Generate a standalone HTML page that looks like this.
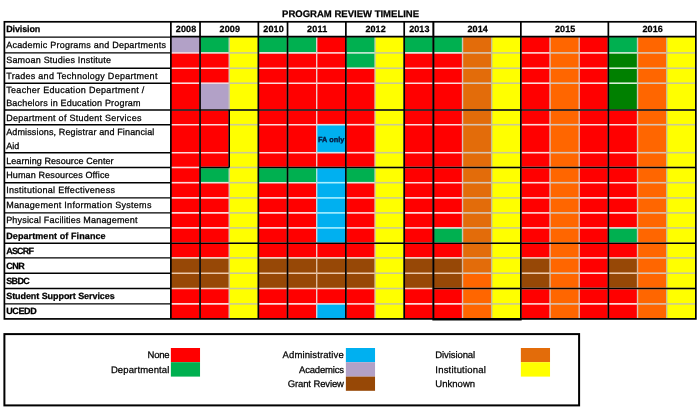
<!DOCTYPE html>
<html lang="en"><head><meta charset="utf-8"><title>Program Review Timeline</title>
<style>
html,body{margin:0;padding:0;background:#fff;}
body{width:700px;height:410px;position:relative;overflow:hidden;font-family:"Liberation Sans",sans-serif;font-size:9.0px;color:#000;text-rendering:geometricPrecision;}
svg{position:absolute;left:0;top:0;}
.t{position:absolute;white-space:nowrap;line-height:12px;height:12px;-webkit-text-stroke:0.25px #000;}
.t span{display:inline-block;}
</style></head><body>
<svg width="700" height="410" viewBox="0 0 700 410">
<rect x="170.87" y="37.1" width="29.17" height="15.8" fill="#B2A1C7"/>
<rect x="170.87" y="52.9" width="29.17" height="205" fill="#FF0000"/>
<rect x="170.87" y="257.9" width="29.17" height="30.6" fill="#974806"/>
<rect x="170.87" y="288.5" width="29.17" height="30.4" fill="#FF0000"/>
<rect x="200.04" y="37.1" width="29.17" height="15.8" fill="#00B050"/>
<rect x="200.04" y="52.9" width="29.17" height="30.3" fill="#FF0000"/>
<rect x="200.04" y="83.2" width="29.17" height="26.8" fill="#B2A1C7"/>
<rect x="200.04" y="110" width="29.17" height="57.5" fill="#FF0000"/>
<rect x="200.04" y="167.5" width="29.17" height="15.2" fill="#00B050"/>
<rect x="200.04" y="182.7" width="29.17" height="75.2" fill="#FF0000"/>
<rect x="200.04" y="257.9" width="29.17" height="30.6" fill="#974806"/>
<rect x="200.04" y="288.5" width="29.17" height="30.4" fill="#FF0000"/>
<rect x="229.2" y="37.1" width="29.17" height="281.8" fill="#FFFF00"/>
<rect x="258.37" y="37.1" width="29.17" height="15.8" fill="#00B050"/>
<rect x="258.37" y="52.9" width="29.17" height="114.6" fill="#FF0000"/>
<rect x="258.37" y="167.5" width="29.17" height="15.2" fill="#00B050"/>
<rect x="258.37" y="182.7" width="29.17" height="75.2" fill="#FF0000"/>
<rect x="258.37" y="257.9" width="29.17" height="30.6" fill="#974806"/>
<rect x="258.37" y="288.5" width="29.17" height="30.4" fill="#FF0000"/>
<rect x="287.53" y="37.1" width="29.17" height="15.8" fill="#00B050"/>
<rect x="287.53" y="52.9" width="29.17" height="114.6" fill="#FF0000"/>
<rect x="287.53" y="167.5" width="29.17" height="15.2" fill="#00B050"/>
<rect x="287.53" y="182.7" width="29.17" height="75.2" fill="#FF0000"/>
<rect x="287.53" y="257.9" width="29.17" height="30.6" fill="#974806"/>
<rect x="287.53" y="288.5" width="29.17" height="30.4" fill="#FF0000"/>
<rect x="316.7" y="37.1" width="29.17" height="87.6" fill="#FF0000"/>
<rect x="316.7" y="124.7" width="29.17" height="28" fill="#00B0F0"/>
<rect x="316.7" y="152.7" width="29.17" height="14.8" fill="#FF0000"/>
<rect x="316.7" y="167.5" width="29.17" height="75.7" fill="#00B0F0"/>
<rect x="316.7" y="243.2" width="29.17" height="14.7" fill="#FF0000"/>
<rect x="316.7" y="257.9" width="29.17" height="30.6" fill="#974806"/>
<rect x="316.7" y="288.5" width="29.17" height="15.4" fill="#FF0000"/>
<rect x="316.7" y="303.9" width="29.17" height="15" fill="#00B0F0"/>
<rect x="345.87" y="37.1" width="29.17" height="31.1" fill="#00B050"/>
<rect x="345.87" y="68.2" width="29.17" height="99.3" fill="#FF0000"/>
<rect x="345.87" y="167.5" width="29.17" height="15.2" fill="#00B050"/>
<rect x="345.87" y="182.7" width="29.17" height="75.2" fill="#FF0000"/>
<rect x="345.87" y="257.9" width="29.17" height="30.6" fill="#974806"/>
<rect x="345.87" y="288.5" width="29.17" height="30.4" fill="#FF0000"/>
<rect x="375.03" y="37.1" width="29.17" height="281.8" fill="#FFFF00"/>
<rect x="404.2" y="37.1" width="29.17" height="15.8" fill="#00B050"/>
<rect x="404.2" y="52.9" width="29.17" height="205" fill="#FF0000"/>
<rect x="404.2" y="257.9" width="29.17" height="30.6" fill="#974806"/>
<rect x="404.2" y="288.5" width="29.17" height="30.4" fill="#FF0000"/>
<rect x="433.36" y="37.1" width="29.17" height="15.8" fill="#00B050"/>
<rect x="433.36" y="52.9" width="29.17" height="175" fill="#FF0000"/>
<rect x="433.36" y="227.9" width="29.17" height="15.3" fill="#00B050"/>
<rect x="433.36" y="243.2" width="29.17" height="14.7" fill="#FF0000"/>
<rect x="433.36" y="257.9" width="29.17" height="30.6" fill="#974806"/>
<rect x="433.36" y="288.5" width="29.17" height="30.4" fill="#FF0000"/>
<rect x="462.53" y="37.1" width="29.17" height="236.1" fill="#E36C0A"/>
<rect x="462.53" y="273.2" width="29.17" height="45.7" fill="#FF6600"/>
<rect x="491.7" y="37.1" width="29.17" height="281.8" fill="#FFFF00"/>
<rect x="520.86" y="37.1" width="29.17" height="220.8" fill="#FF0000"/>
<rect x="520.86" y="257.9" width="29.17" height="30.6" fill="#974806"/>
<rect x="520.86" y="288.5" width="29.17" height="30.4" fill="#FF0000"/>
<rect x="550.03" y="37.1" width="29.17" height="281.8" fill="#FF6600"/>
<rect x="579.19" y="37.1" width="29.17" height="281.8" fill="#FF0000"/>
<rect x="608.36" y="37.1" width="29.17" height="15.8" fill="#00B050"/>
<rect x="608.36" y="52.9" width="29.17" height="57.1" fill="#008000"/>
<rect x="608.36" y="110" width="29.17" height="117.9" fill="#FF0000"/>
<rect x="608.36" y="227.9" width="29.17" height="15.3" fill="#00B050"/>
<rect x="608.36" y="243.2" width="29.17" height="14.7" fill="#FF0000"/>
<rect x="608.36" y="257.9" width="29.17" height="30.6" fill="#974806"/>
<rect x="608.36" y="288.5" width="29.17" height="30.4" fill="#FF0000"/>
<rect x="637.53" y="37.1" width="29.17" height="281.8" fill="#FF6600"/>
<rect x="666.69" y="37.1" width="29.17" height="281.8" fill="#FFFF00"/>
<line x1="170.87" x2="200.04" y1="52.9" y2="52.9" stroke="#EFD9E1" stroke-width="1.6"/>
<line x1="200.04" x2="229.2" y1="52.9" y2="52.9" stroke="#E7E1DA" stroke-width="1.6"/>
<line x1="229.2" x2="258.37" y1="52.9" y2="52.9" stroke="#CACA96" stroke-width="1.6"/>
<line x1="258.37" x2="316.7" y1="52.9" y2="52.9" stroke="#E7E1DA" stroke-width="1.6"/>
<line x1="316.7" x2="345.87" y1="52.9" y2="52.9" stroke="#FCD8D8" stroke-width="1.6"/>
<line x1="345.87" x2="375.03" y1="52.9" y2="52.9" stroke="#D2EBDC" stroke-width="1.6"/>
<line x1="375.03" x2="404.2" y1="52.9" y2="52.9" stroke="#CACA96" stroke-width="1.6"/>
<line x1="404.2" x2="462.53" y1="52.9" y2="52.9" stroke="#E7E1DA" stroke-width="1.6"/>
<line x1="462.53" x2="491.7" y1="52.9" y2="52.9" stroke="#D6C4B2" stroke-width="1.6"/>
<line x1="491.7" x2="520.86" y1="52.9" y2="52.9" stroke="#CACA96" stroke-width="1.6"/>
<line x1="520.86" x2="550.03" y1="52.9" y2="52.9" stroke="#FCD8D8" stroke-width="1.6"/>
<line x1="550.03" x2="579.19" y1="52.9" y2="52.9" stroke="#D8C4B2" stroke-width="1.6"/>
<line x1="579.19" x2="608.36" y1="52.9" y2="52.9" stroke="#FCD8D8" stroke-width="1.6"/>
<line x1="608.36" x2="637.53" y1="52.9" y2="52.9" stroke="#D4EDD9" stroke-width="1.6"/>
<line x1="637.53" x2="666.69" y1="52.9" y2="52.9" stroke="#D8C4B2" stroke-width="1.6"/>
<line x1="666.69" x2="695.86" y1="52.9" y2="52.9" stroke="#CACA96" stroke-width="1.6"/>
<line x1="170.87" x2="229.2" y1="68.2" y2="68.2" stroke="#FCD8D8" stroke-width="1.6"/>
<line x1="229.2" x2="258.37" y1="68.2" y2="68.2" stroke="#CACA96" stroke-width="1.6"/>
<line x1="258.37" x2="345.87" y1="68.2" y2="68.2" stroke="#FCD8D8" stroke-width="1.6"/>
<line x1="345.87" x2="375.03" y1="68.2" y2="68.2" stroke="#E7E1DA" stroke-width="1.6"/>
<line x1="375.03" x2="404.2" y1="68.2" y2="68.2" stroke="#CACA96" stroke-width="1.6"/>
<line x1="404.2" x2="462.53" y1="68.2" y2="68.2" stroke="#FCD8D8" stroke-width="1.6"/>
<line x1="462.53" x2="491.7" y1="68.2" y2="68.2" stroke="#D6C4B2" stroke-width="1.6"/>
<line x1="491.7" x2="520.86" y1="68.2" y2="68.2" stroke="#CACA96" stroke-width="1.6"/>
<line x1="520.86" x2="550.03" y1="68.2" y2="68.2" stroke="#FCD8D8" stroke-width="1.6"/>
<line x1="550.03" x2="579.19" y1="68.2" y2="68.2" stroke="#D8C4B2" stroke-width="1.6"/>
<line x1="579.19" x2="608.36" y1="68.2" y2="68.2" stroke="#FCD8D8" stroke-width="1.6"/>
<line x1="608.36" x2="637.53" y1="68.2" y2="68.2" stroke="#D7F0D7" stroke-width="1.6"/>
<line x1="637.53" x2="666.69" y1="68.2" y2="68.2" stroke="#D8C4B2" stroke-width="1.6"/>
<line x1="666.69" x2="695.86" y1="68.2" y2="68.2" stroke="#CACA96" stroke-width="1.6"/>
<line x1="170.87" x2="200.04" y1="83.2" y2="83.2" stroke="#FCD8D8" stroke-width="1.6"/>
<line x1="200.04" x2="229.2" y1="83.2" y2="83.2" stroke="#EFD9E1" stroke-width="1.6"/>
<line x1="229.2" x2="258.37" y1="83.2" y2="83.2" stroke="#CACA96" stroke-width="1.6"/>
<line x1="258.37" x2="375.03" y1="83.2" y2="83.2" stroke="#FCD8D8" stroke-width="1.6"/>
<line x1="375.03" x2="404.2" y1="83.2" y2="83.2" stroke="#CACA96" stroke-width="1.6"/>
<line x1="404.2" x2="462.53" y1="83.2" y2="83.2" stroke="#FCD8D8" stroke-width="1.6"/>
<line x1="462.53" x2="491.7" y1="83.2" y2="83.2" stroke="#D6C4B2" stroke-width="1.6"/>
<line x1="491.7" x2="520.86" y1="83.2" y2="83.2" stroke="#CACA96" stroke-width="1.6"/>
<line x1="520.86" x2="550.03" y1="83.2" y2="83.2" stroke="#FCD8D8" stroke-width="1.6"/>
<line x1="550.03" x2="579.19" y1="83.2" y2="83.2" stroke="#D8C4B2" stroke-width="1.6"/>
<line x1="579.19" x2="608.36" y1="83.2" y2="83.2" stroke="#FCD8D8" stroke-width="1.6"/>
<line x1="608.36" x2="637.53" y1="83.2" y2="83.2" stroke="#D7F0D7" stroke-width="1.6"/>
<line x1="637.53" x2="666.69" y1="83.2" y2="83.2" stroke="#D8C4B2" stroke-width="1.6"/>
<line x1="666.69" x2="695.86" y1="83.2" y2="83.2" stroke="#CACA96" stroke-width="1.6"/>
<line x1="170.87" x2="200.04" y1="110" y2="110" stroke="#FCD8D8" stroke-width="1.6"/>
<line x1="200.04" x2="229.2" y1="110" y2="110" stroke="#EFD9E1" stroke-width="1.6"/>
<line x1="229.2" x2="258.37" y1="110" y2="110" stroke="#CACA96" stroke-width="1.6"/>
<line x1="258.37" x2="375.03" y1="110" y2="110" stroke="#FCD8D8" stroke-width="1.6"/>
<line x1="375.03" x2="404.2" y1="110" y2="110" stroke="#CACA96" stroke-width="1.6"/>
<line x1="404.2" x2="462.53" y1="110" y2="110" stroke="#FCD8D8" stroke-width="1.6"/>
<line x1="462.53" x2="491.7" y1="110" y2="110" stroke="#D6C4B2" stroke-width="1.6"/>
<line x1="491.7" x2="520.86" y1="110" y2="110" stroke="#CACA96" stroke-width="1.6"/>
<line x1="520.86" x2="550.03" y1="110" y2="110" stroke="#FCD8D8" stroke-width="1.6"/>
<line x1="550.03" x2="579.19" y1="110" y2="110" stroke="#D8C4B2" stroke-width="1.6"/>
<line x1="579.19" x2="608.36" y1="110" y2="110" stroke="#FCD8D8" stroke-width="1.6"/>
<line x1="608.36" x2="637.53" y1="110" y2="110" stroke="#E9E4D7" stroke-width="1.6"/>
<line x1="637.53" x2="666.69" y1="110" y2="110" stroke="#D8C4B2" stroke-width="1.6"/>
<line x1="666.69" x2="695.86" y1="110" y2="110" stroke="#CACA96" stroke-width="1.6"/>
<line x1="170.87" x2="229.2" y1="124.7" y2="124.7" stroke="#FCD8D8" stroke-width="1.6"/>
<line x1="229.2" x2="258.37" y1="124.7" y2="124.7" stroke="#CACA96" stroke-width="1.6"/>
<line x1="258.37" x2="316.7" y1="124.7" y2="124.7" stroke="#FCD8D8" stroke-width="1.6"/>
<line x1="316.7" x2="345.87" y1="124.7" y2="124.7" stroke="#D3E4EB" stroke-width="1.6"/>
<line x1="345.87" x2="375.03" y1="124.7" y2="124.7" stroke="#FCD8D8" stroke-width="1.6"/>
<line x1="375.03" x2="404.2" y1="124.7" y2="124.7" stroke="#CACA96" stroke-width="1.6"/>
<line x1="404.2" x2="462.53" y1="124.7" y2="124.7" stroke="#FCD8D8" stroke-width="1.6"/>
<line x1="462.53" x2="491.7" y1="124.7" y2="124.7" stroke="#D6C4B2" stroke-width="1.6"/>
<line x1="491.7" x2="520.86" y1="124.7" y2="124.7" stroke="#CACA96" stroke-width="1.6"/>
<line x1="520.86" x2="550.03" y1="124.7" y2="124.7" stroke="#FCD8D8" stroke-width="1.6"/>
<line x1="550.03" x2="579.19" y1="124.7" y2="124.7" stroke="#D8C4B2" stroke-width="1.6"/>
<line x1="579.19" x2="637.53" y1="124.7" y2="124.7" stroke="#FCD8D8" stroke-width="1.6"/>
<line x1="637.53" x2="666.69" y1="124.7" y2="124.7" stroke="#D8C4B2" stroke-width="1.6"/>
<line x1="666.69" x2="695.86" y1="124.7" y2="124.7" stroke="#CACA96" stroke-width="1.6"/>
<line x1="170.87" x2="229.2" y1="152.7" y2="152.7" stroke="#FCD8D8" stroke-width="1.6"/>
<line x1="229.2" x2="258.37" y1="152.7" y2="152.7" stroke="#CACA96" stroke-width="1.6"/>
<line x1="258.37" x2="316.7" y1="152.7" y2="152.7" stroke="#FCD8D8" stroke-width="1.6"/>
<line x1="316.7" x2="345.87" y1="152.7" y2="152.7" stroke="#D3E4EB" stroke-width="1.6"/>
<line x1="345.87" x2="375.03" y1="152.7" y2="152.7" stroke="#FCD8D8" stroke-width="1.6"/>
<line x1="375.03" x2="404.2" y1="152.7" y2="152.7" stroke="#CACA96" stroke-width="1.6"/>
<line x1="404.2" x2="462.53" y1="152.7" y2="152.7" stroke="#FCD8D8" stroke-width="1.6"/>
<line x1="462.53" x2="491.7" y1="152.7" y2="152.7" stroke="#D6C4B2" stroke-width="1.6"/>
<line x1="491.7" x2="520.86" y1="152.7" y2="152.7" stroke="#CACA96" stroke-width="1.6"/>
<line x1="520.86" x2="550.03" y1="152.7" y2="152.7" stroke="#FCD8D8" stroke-width="1.6"/>
<line x1="550.03" x2="579.19" y1="152.7" y2="152.7" stroke="#D8C4B2" stroke-width="1.6"/>
<line x1="579.19" x2="637.53" y1="152.7" y2="152.7" stroke="#FCD8D8" stroke-width="1.6"/>
<line x1="637.53" x2="666.69" y1="152.7" y2="152.7" stroke="#D8C4B2" stroke-width="1.6"/>
<line x1="666.69" x2="695.86" y1="152.7" y2="152.7" stroke="#CACA96" stroke-width="1.6"/>
<line x1="170.87" x2="200.04" y1="167.5" y2="167.5" stroke="#FCD8D8" stroke-width="1.6"/>
<line x1="200.04" x2="229.2" y1="167.5" y2="167.5" stroke="#E7E1DA" stroke-width="1.6"/>
<line x1="229.2" x2="258.37" y1="167.5" y2="167.5" stroke="#CACA96" stroke-width="1.6"/>
<line x1="258.37" x2="316.7" y1="167.5" y2="167.5" stroke="#E7E1DA" stroke-width="1.6"/>
<line x1="316.7" x2="345.87" y1="167.5" y2="167.5" stroke="#D3E4EB" stroke-width="1.6"/>
<line x1="345.87" x2="375.03" y1="167.5" y2="167.5" stroke="#E7E1DA" stroke-width="1.6"/>
<line x1="375.03" x2="404.2" y1="167.5" y2="167.5" stroke="#CACA96" stroke-width="1.6"/>
<line x1="404.2" x2="462.53" y1="167.5" y2="167.5" stroke="#FCD8D8" stroke-width="1.6"/>
<line x1="462.53" x2="491.7" y1="167.5" y2="167.5" stroke="#D6C4B2" stroke-width="1.6"/>
<line x1="491.7" x2="520.86" y1="167.5" y2="167.5" stroke="#CACA96" stroke-width="1.6"/>
<line x1="520.86" x2="550.03" y1="167.5" y2="167.5" stroke="#FCD8D8" stroke-width="1.6"/>
<line x1="550.03" x2="579.19" y1="167.5" y2="167.5" stroke="#D8C4B2" stroke-width="1.6"/>
<line x1="579.19" x2="637.53" y1="167.5" y2="167.5" stroke="#FCD8D8" stroke-width="1.6"/>
<line x1="637.53" x2="666.69" y1="167.5" y2="167.5" stroke="#D8C4B2" stroke-width="1.6"/>
<line x1="666.69" x2="695.86" y1="167.5" y2="167.5" stroke="#CACA96" stroke-width="1.6"/>
<line x1="170.87" x2="200.04" y1="182.7" y2="182.7" stroke="#FCD8D8" stroke-width="1.6"/>
<line x1="200.04" x2="229.2" y1="182.7" y2="182.7" stroke="#E7E1DA" stroke-width="1.6"/>
<line x1="229.2" x2="258.37" y1="182.7" y2="182.7" stroke="#CACA96" stroke-width="1.6"/>
<line x1="258.37" x2="316.7" y1="182.7" y2="182.7" stroke="#E7E1DA" stroke-width="1.6"/>
<line x1="316.7" x2="345.87" y1="182.7" y2="182.7" stroke="#AAF0FF" stroke-width="1.6"/>
<line x1="345.87" x2="375.03" y1="182.7" y2="182.7" stroke="#E7E1DA" stroke-width="1.6"/>
<line x1="375.03" x2="404.2" y1="182.7" y2="182.7" stroke="#CACA96" stroke-width="1.6"/>
<line x1="404.2" x2="462.53" y1="182.7" y2="182.7" stroke="#FCD8D8" stroke-width="1.6"/>
<line x1="462.53" x2="491.7" y1="182.7" y2="182.7" stroke="#D6C4B2" stroke-width="1.6"/>
<line x1="491.7" x2="520.86" y1="182.7" y2="182.7" stroke="#CACA96" stroke-width="1.6"/>
<line x1="520.86" x2="550.03" y1="182.7" y2="182.7" stroke="#FCD8D8" stroke-width="1.6"/>
<line x1="550.03" x2="579.19" y1="182.7" y2="182.7" stroke="#D8C4B2" stroke-width="1.6"/>
<line x1="579.19" x2="637.53" y1="182.7" y2="182.7" stroke="#FCD8D8" stroke-width="1.6"/>
<line x1="637.53" x2="666.69" y1="182.7" y2="182.7" stroke="#D8C4B2" stroke-width="1.6"/>
<line x1="666.69" x2="695.86" y1="182.7" y2="182.7" stroke="#CACA96" stroke-width="1.6"/>
<line x1="170.87" x2="229.2" y1="197.9" y2="197.9" stroke="#FCD8D8" stroke-width="1.6"/>
<line x1="229.2" x2="258.37" y1="197.9" y2="197.9" stroke="#CACA96" stroke-width="1.6"/>
<line x1="258.37" x2="316.7" y1="197.9" y2="197.9" stroke="#FCD8D8" stroke-width="1.6"/>
<line x1="316.7" x2="345.87" y1="197.9" y2="197.9" stroke="#AAF0FF" stroke-width="1.6"/>
<line x1="345.87" x2="375.03" y1="197.9" y2="197.9" stroke="#FCD8D8" stroke-width="1.6"/>
<line x1="375.03" x2="404.2" y1="197.9" y2="197.9" stroke="#CACA96" stroke-width="1.6"/>
<line x1="404.2" x2="462.53" y1="197.9" y2="197.9" stroke="#FCD8D8" stroke-width="1.6"/>
<line x1="462.53" x2="491.7" y1="197.9" y2="197.9" stroke="#D6C4B2" stroke-width="1.6"/>
<line x1="491.7" x2="520.86" y1="197.9" y2="197.9" stroke="#CACA96" stroke-width="1.6"/>
<line x1="520.86" x2="550.03" y1="197.9" y2="197.9" stroke="#FCD8D8" stroke-width="1.6"/>
<line x1="550.03" x2="579.19" y1="197.9" y2="197.9" stroke="#D8C4B2" stroke-width="1.6"/>
<line x1="579.19" x2="637.53" y1="197.9" y2="197.9" stroke="#FCD8D8" stroke-width="1.6"/>
<line x1="637.53" x2="666.69" y1="197.9" y2="197.9" stroke="#D8C4B2" stroke-width="1.6"/>
<line x1="666.69" x2="695.86" y1="197.9" y2="197.9" stroke="#CACA96" stroke-width="1.6"/>
<line x1="170.87" x2="229.2" y1="212.9" y2="212.9" stroke="#FCD8D8" stroke-width="1.6"/>
<line x1="229.2" x2="258.37" y1="212.9" y2="212.9" stroke="#CACA96" stroke-width="1.6"/>
<line x1="258.37" x2="316.7" y1="212.9" y2="212.9" stroke="#FCD8D8" stroke-width="1.6"/>
<line x1="316.7" x2="345.87" y1="212.9" y2="212.9" stroke="#AAF0FF" stroke-width="1.6"/>
<line x1="345.87" x2="375.03" y1="212.9" y2="212.9" stroke="#FCD8D8" stroke-width="1.6"/>
<line x1="375.03" x2="404.2" y1="212.9" y2="212.9" stroke="#CACA96" stroke-width="1.6"/>
<line x1="404.2" x2="462.53" y1="212.9" y2="212.9" stroke="#FCD8D8" stroke-width="1.6"/>
<line x1="462.53" x2="491.7" y1="212.9" y2="212.9" stroke="#D6C4B2" stroke-width="1.6"/>
<line x1="491.7" x2="520.86" y1="212.9" y2="212.9" stroke="#CACA96" stroke-width="1.6"/>
<line x1="520.86" x2="550.03" y1="212.9" y2="212.9" stroke="#FCD8D8" stroke-width="1.6"/>
<line x1="550.03" x2="579.19" y1="212.9" y2="212.9" stroke="#D8C4B2" stroke-width="1.6"/>
<line x1="579.19" x2="637.53" y1="212.9" y2="212.9" stroke="#FCD8D8" stroke-width="1.6"/>
<line x1="637.53" x2="666.69" y1="212.9" y2="212.9" stroke="#D8C4B2" stroke-width="1.6"/>
<line x1="666.69" x2="695.86" y1="212.9" y2="212.9" stroke="#CACA96" stroke-width="1.6"/>
<line x1="170.87" x2="229.2" y1="227.9" y2="227.9" stroke="#FCD8D8" stroke-width="1.6"/>
<line x1="229.2" x2="258.37" y1="227.9" y2="227.9" stroke="#CACA96" stroke-width="1.6"/>
<line x1="258.37" x2="316.7" y1="227.9" y2="227.9" stroke="#FCD8D8" stroke-width="1.6"/>
<line x1="316.7" x2="345.87" y1="227.9" y2="227.9" stroke="#AAF0FF" stroke-width="1.6"/>
<line x1="345.87" x2="375.03" y1="227.9" y2="227.9" stroke="#FCD8D8" stroke-width="1.6"/>
<line x1="375.03" x2="404.2" y1="227.9" y2="227.9" stroke="#CACA96" stroke-width="1.6"/>
<line x1="404.2" x2="433.36" y1="227.9" y2="227.9" stroke="#FCD8D8" stroke-width="1.6"/>
<line x1="433.36" x2="462.53" y1="227.9" y2="227.9" stroke="#E7E1DA" stroke-width="1.6"/>
<line x1="462.53" x2="491.7" y1="227.9" y2="227.9" stroke="#D6C4B2" stroke-width="1.6"/>
<line x1="491.7" x2="520.86" y1="227.9" y2="227.9" stroke="#CACA96" stroke-width="1.6"/>
<line x1="520.86" x2="550.03" y1="227.9" y2="227.9" stroke="#FCD8D8" stroke-width="1.6"/>
<line x1="550.03" x2="579.19" y1="227.9" y2="227.9" stroke="#D8C4B2" stroke-width="1.6"/>
<line x1="579.19" x2="608.36" y1="227.9" y2="227.9" stroke="#FCD8D8" stroke-width="1.6"/>
<line x1="608.36" x2="637.53" y1="227.9" y2="227.9" stroke="#E7E1DA" stroke-width="1.6"/>
<line x1="637.53" x2="666.69" y1="227.9" y2="227.9" stroke="#D8C4B2" stroke-width="1.6"/>
<line x1="666.69" x2="695.86" y1="227.9" y2="227.9" stroke="#CACA96" stroke-width="1.6"/>
<line x1="170.87" x2="229.2" y1="243.2" y2="243.2" stroke="#FCD8D8" stroke-width="1.6"/>
<line x1="229.2" x2="258.37" y1="243.2" y2="243.2" stroke="#CACA96" stroke-width="1.6"/>
<line x1="258.37" x2="316.7" y1="243.2" y2="243.2" stroke="#FCD8D8" stroke-width="1.6"/>
<line x1="316.7" x2="345.87" y1="243.2" y2="243.2" stroke="#D3E4EB" stroke-width="1.6"/>
<line x1="345.87" x2="375.03" y1="243.2" y2="243.2" stroke="#FCD8D8" stroke-width="1.6"/>
<line x1="375.03" x2="404.2" y1="243.2" y2="243.2" stroke="#CACA96" stroke-width="1.6"/>
<line x1="404.2" x2="433.36" y1="243.2" y2="243.2" stroke="#FCD8D8" stroke-width="1.6"/>
<line x1="433.36" x2="462.53" y1="243.2" y2="243.2" stroke="#E7E1DA" stroke-width="1.6"/>
<line x1="462.53" x2="491.7" y1="243.2" y2="243.2" stroke="#D6C4B2" stroke-width="1.6"/>
<line x1="491.7" x2="520.86" y1="243.2" y2="243.2" stroke="#CACA96" stroke-width="1.6"/>
<line x1="520.86" x2="550.03" y1="243.2" y2="243.2" stroke="#FCD8D8" stroke-width="1.6"/>
<line x1="550.03" x2="579.19" y1="243.2" y2="243.2" stroke="#D8C4B2" stroke-width="1.6"/>
<line x1="579.19" x2="608.36" y1="243.2" y2="243.2" stroke="#FCD8D8" stroke-width="1.6"/>
<line x1="608.36" x2="637.53" y1="243.2" y2="243.2" stroke="#E7E1DA" stroke-width="1.6"/>
<line x1="637.53" x2="666.69" y1="243.2" y2="243.2" stroke="#D8C4B2" stroke-width="1.6"/>
<line x1="666.69" x2="695.86" y1="243.2" y2="243.2" stroke="#CACA96" stroke-width="1.6"/>
<line x1="170.87" x2="229.2" y1="257.9" y2="257.9" stroke="#F4D0C1" stroke-width="1.6"/>
<line x1="229.2" x2="258.37" y1="257.9" y2="257.9" stroke="#CACA96" stroke-width="1.6"/>
<line x1="258.37" x2="375.03" y1="257.9" y2="257.9" stroke="#F4D0C1" stroke-width="1.6"/>
<line x1="375.03" x2="404.2" y1="257.9" y2="257.9" stroke="#CACA96" stroke-width="1.6"/>
<line x1="404.2" x2="462.53" y1="257.9" y2="257.9" stroke="#F4D0C1" stroke-width="1.6"/>
<line x1="462.53" x2="491.7" y1="257.9" y2="257.9" stroke="#D6C4B2" stroke-width="1.6"/>
<line x1="491.7" x2="520.86" y1="257.9" y2="257.9" stroke="#CACA96" stroke-width="1.6"/>
<line x1="520.86" x2="550.03" y1="257.9" y2="257.9" stroke="#F4D0C1" stroke-width="1.6"/>
<line x1="550.03" x2="579.19" y1="257.9" y2="257.9" stroke="#D8C4B2" stroke-width="1.6"/>
<line x1="579.19" x2="608.36" y1="257.9" y2="257.9" stroke="#FCD8D8" stroke-width="1.6"/>
<line x1="608.36" x2="637.53" y1="257.9" y2="257.9" stroke="#F4D0C1" stroke-width="1.6"/>
<line x1="637.53" x2="666.69" y1="257.9" y2="257.9" stroke="#D8C4B2" stroke-width="1.6"/>
<line x1="666.69" x2="695.86" y1="257.9" y2="257.9" stroke="#CACA96" stroke-width="1.6"/>
<line x1="170.87" x2="229.2" y1="273.2" y2="273.2" stroke="#ECC8AA" stroke-width="1.6"/>
<line x1="229.2" x2="258.37" y1="273.2" y2="273.2" stroke="#CACA96" stroke-width="1.6"/>
<line x1="258.37" x2="375.03" y1="273.2" y2="273.2" stroke="#ECC8AA" stroke-width="1.6"/>
<line x1="375.03" x2="404.2" y1="273.2" y2="273.2" stroke="#CACA96" stroke-width="1.6"/>
<line x1="404.2" x2="462.53" y1="273.2" y2="273.2" stroke="#ECC8AA" stroke-width="1.6"/>
<line x1="462.53" x2="491.7" y1="273.2" y2="273.2" stroke="#D7C4B2" stroke-width="1.6"/>
<line x1="491.7" x2="520.86" y1="273.2" y2="273.2" stroke="#CACA96" stroke-width="1.6"/>
<line x1="520.86" x2="550.03" y1="273.2" y2="273.2" stroke="#ECC8AA" stroke-width="1.6"/>
<line x1="550.03" x2="579.19" y1="273.2" y2="273.2" stroke="#D8C4B2" stroke-width="1.6"/>
<line x1="579.19" x2="608.36" y1="273.2" y2="273.2" stroke="#FCD8D8" stroke-width="1.6"/>
<line x1="608.36" x2="637.53" y1="273.2" y2="273.2" stroke="#ECC8AA" stroke-width="1.6"/>
<line x1="637.53" x2="666.69" y1="273.2" y2="273.2" stroke="#D8C4B2" stroke-width="1.6"/>
<line x1="666.69" x2="695.86" y1="273.2" y2="273.2" stroke="#CACA96" stroke-width="1.6"/>
<line x1="170.87" x2="229.2" y1="288.5" y2="288.5" stroke="#F4D0C1" stroke-width="1.6"/>
<line x1="229.2" x2="258.37" y1="288.5" y2="288.5" stroke="#CACA96" stroke-width="1.6"/>
<line x1="258.37" x2="375.03" y1="288.5" y2="288.5" stroke="#F4D0C1" stroke-width="1.6"/>
<line x1="375.03" x2="404.2" y1="288.5" y2="288.5" stroke="#CACA96" stroke-width="1.6"/>
<line x1="404.2" x2="462.53" y1="288.5" y2="288.5" stroke="#F4D0C1" stroke-width="1.6"/>
<line x1="462.53" x2="491.7" y1="288.5" y2="288.5" stroke="#D8C4B2" stroke-width="1.6"/>
<line x1="491.7" x2="520.86" y1="288.5" y2="288.5" stroke="#CACA96" stroke-width="1.6"/>
<line x1="520.86" x2="550.03" y1="288.5" y2="288.5" stroke="#F4D0C1" stroke-width="1.6"/>
<line x1="550.03" x2="579.19" y1="288.5" y2="288.5" stroke="#D8C4B2" stroke-width="1.6"/>
<line x1="579.19" x2="608.36" y1="288.5" y2="288.5" stroke="#FCD8D8" stroke-width="1.6"/>
<line x1="608.36" x2="637.53" y1="288.5" y2="288.5" stroke="#F4D0C1" stroke-width="1.6"/>
<line x1="637.53" x2="666.69" y1="288.5" y2="288.5" stroke="#D8C4B2" stroke-width="1.6"/>
<line x1="666.69" x2="695.86" y1="288.5" y2="288.5" stroke="#CACA96" stroke-width="1.6"/>
<line x1="170.87" x2="229.2" y1="303.9" y2="303.9" stroke="#FCD8D8" stroke-width="1.6"/>
<line x1="229.2" x2="258.37" y1="303.9" y2="303.9" stroke="#CACA96" stroke-width="1.6"/>
<line x1="258.37" x2="316.7" y1="303.9" y2="303.9" stroke="#FCD8D8" stroke-width="1.6"/>
<line x1="316.7" x2="345.87" y1="303.9" y2="303.9" stroke="#D3E4EB" stroke-width="1.6"/>
<line x1="345.87" x2="375.03" y1="303.9" y2="303.9" stroke="#FCD8D8" stroke-width="1.6"/>
<line x1="375.03" x2="404.2" y1="303.9" y2="303.9" stroke="#CACA96" stroke-width="1.6"/>
<line x1="404.2" x2="462.53" y1="303.9" y2="303.9" stroke="#FCD8D8" stroke-width="1.6"/>
<line x1="462.53" x2="491.7" y1="303.9" y2="303.9" stroke="#D8C4B2" stroke-width="1.6"/>
<line x1="491.7" x2="520.86" y1="303.9" y2="303.9" stroke="#CACA96" stroke-width="1.6"/>
<line x1="520.86" x2="550.03" y1="303.9" y2="303.9" stroke="#FCD8D8" stroke-width="1.6"/>
<line x1="550.03" x2="579.19" y1="303.9" y2="303.9" stroke="#D8C4B2" stroke-width="1.6"/>
<line x1="579.19" x2="637.53" y1="303.9" y2="303.9" stroke="#FCD8D8" stroke-width="1.6"/>
<line x1="637.53" x2="666.69" y1="303.9" y2="303.9" stroke="#D8C4B2" stroke-width="1.6"/>
<line x1="666.69" x2="695.86" y1="303.9" y2="303.9" stroke="#CACA96" stroke-width="1.6"/>
<line y1="37.1" y2="52.9" x1="200.04" x2="200.04" stroke="#CCD4D5" stroke-width="1.4"/>
<line y1="52.9" y2="83.2" x1="200.04" x2="200.04" stroke="#ECCBCB" stroke-width="1.4"/>
<line y1="83.2" y2="110" x1="200.04" x2="200.04" stroke="#E0CBD3" stroke-width="1.4"/>
<line y1="110" y2="167.5" x1="200.04" x2="200.04" stroke="#ECCBCB" stroke-width="1.4"/>
<line y1="167.5" y2="182.7" x1="200.04" x2="200.04" stroke="#D9D3CC" stroke-width="1.4"/>
<line y1="182.7" y2="257.9" x1="200.04" x2="200.04" stroke="#ECCBCB" stroke-width="1.4"/>
<line y1="257.9" y2="288.5" x1="200.04" x2="200.04" stroke="#DDBC9F" stroke-width="1.4"/>
<line y1="288.5" y2="318.9" x1="200.04" x2="200.04" stroke="#ECCBCB" stroke-width="1.4"/>
<line y1="37.1" y2="52.9" x1="229.2" x2="229.2" stroke="#C1CDAD" stroke-width="1.4"/>
<line y1="52.9" y2="83.2" x1="229.2" x2="229.2" stroke="#D5C4AC" stroke-width="1.4"/>
<line y1="83.2" y2="110" x1="229.2" x2="229.2" stroke="#C9C5B4" stroke-width="1.4"/>
<line y1="110" y2="167.5" x1="229.2" x2="229.2" stroke="#D5C4AC" stroke-width="1.4"/>
<line y1="167.5" y2="182.7" x1="229.2" x2="229.2" stroke="#C1CDAD" stroke-width="1.4"/>
<line y1="182.7" y2="257.9" x1="229.2" x2="229.2" stroke="#D5C4AC" stroke-width="1.4"/>
<line y1="257.9" y2="288.5" x1="229.2" x2="229.2" stroke="#CDBC96" stroke-width="1.4"/>
<line y1="288.5" y2="318.9" x1="229.2" x2="229.2" stroke="#D5C4AC" stroke-width="1.4"/>
<line y1="37.1" y2="52.9" x1="258.37" x2="258.37" stroke="#C1CDAD" stroke-width="1.4"/>
<line y1="52.9" y2="167.5" x1="258.37" x2="258.37" stroke="#D5C4AC" stroke-width="1.4"/>
<line y1="167.5" y2="182.7" x1="258.37" x2="258.37" stroke="#C1CDAD" stroke-width="1.4"/>
<line y1="182.7" y2="257.9" x1="258.37" x2="258.37" stroke="#D5C4AC" stroke-width="1.4"/>
<line y1="257.9" y2="288.5" x1="258.37" x2="258.37" stroke="#CDBC96" stroke-width="1.4"/>
<line y1="288.5" y2="318.9" x1="258.37" x2="258.37" stroke="#D5C4AC" stroke-width="1.4"/>
<line y1="37.1" y2="52.9" x1="287.53" x2="287.53" stroke="#C5DCCE" stroke-width="1.4"/>
<line y1="52.9" y2="167.5" x1="287.53" x2="287.53" stroke="#ECCBCB" stroke-width="1.4"/>
<line y1="167.5" y2="182.7" x1="287.53" x2="287.53" stroke="#C5DCCE" stroke-width="1.4"/>
<line y1="182.7" y2="257.9" x1="287.53" x2="287.53" stroke="#ECCBCB" stroke-width="1.4"/>
<line y1="257.9" y2="288.5" x1="287.53" x2="287.53" stroke="#DDBC9F" stroke-width="1.4"/>
<line y1="288.5" y2="318.9" x1="287.53" x2="287.53" stroke="#ECCBCB" stroke-width="1.4"/>
<line y1="37.1" y2="52.9" x1="316.7" x2="316.7" stroke="#D9D3CC" stroke-width="1.4"/>
<line y1="52.9" y2="124.7" x1="316.7" x2="316.7" stroke="#ECCBCB" stroke-width="1.4"/>
<line y1="124.7" y2="152.7" x1="316.7" x2="316.7" stroke="#C6D6DD" stroke-width="1.4"/>
<line y1="152.7" y2="167.5" x1="316.7" x2="316.7" stroke="#ECCBCB" stroke-width="1.4"/>
<line y1="167.5" y2="182.7" x1="316.7" x2="316.7" stroke="#B2DFDF" stroke-width="1.4"/>
<line y1="182.7" y2="243.2" x1="316.7" x2="316.7" stroke="#C6D6DD" stroke-width="1.4"/>
<line y1="243.2" y2="257.9" x1="316.7" x2="316.7" stroke="#ECCBCB" stroke-width="1.4"/>
<line y1="257.9" y2="288.5" x1="316.7" x2="316.7" stroke="#DDBC9F" stroke-width="1.4"/>
<line y1="288.5" y2="303.9" x1="316.7" x2="316.7" stroke="#ECCBCB" stroke-width="1.4"/>
<line y1="303.9" y2="318.9" x1="316.7" x2="316.7" stroke="#C6D6DD" stroke-width="1.4"/>
<line y1="37.1" y2="68.2" x1="345.87" x2="345.87" stroke="#D9D3CC" stroke-width="1.4"/>
<line y1="68.2" y2="124.7" x1="345.87" x2="345.87" stroke="#ECCBCB" stroke-width="1.4"/>
<line y1="124.7" y2="152.7" x1="345.87" x2="345.87" stroke="#C6D6DD" stroke-width="1.4"/>
<line y1="152.7" y2="167.5" x1="345.87" x2="345.87" stroke="#ECCBCB" stroke-width="1.4"/>
<line y1="167.5" y2="182.7" x1="345.87" x2="345.87" stroke="#B2DFDF" stroke-width="1.4"/>
<line y1="182.7" y2="243.2" x1="345.87" x2="345.87" stroke="#C6D6DD" stroke-width="1.4"/>
<line y1="243.2" y2="257.9" x1="345.87" x2="345.87" stroke="#ECCBCB" stroke-width="1.4"/>
<line y1="257.9" y2="288.5" x1="345.87" x2="345.87" stroke="#DDBC9F" stroke-width="1.4"/>
<line y1="288.5" y2="303.9" x1="345.87" x2="345.87" stroke="#ECCBCB" stroke-width="1.4"/>
<line y1="303.9" y2="318.9" x1="345.87" x2="345.87" stroke="#C6D6DD" stroke-width="1.4"/>
<line y1="37.1" y2="68.2" x1="375.03" x2="375.03" stroke="#C1CDAD" stroke-width="1.4"/>
<line y1="68.2" y2="167.5" x1="375.03" x2="375.03" stroke="#D5C4AC" stroke-width="1.4"/>
<line y1="167.5" y2="182.7" x1="375.03" x2="375.03" stroke="#C1CDAD" stroke-width="1.4"/>
<line y1="182.7" y2="257.9" x1="375.03" x2="375.03" stroke="#D5C4AC" stroke-width="1.4"/>
<line y1="257.9" y2="288.5" x1="375.03" x2="375.03" stroke="#CDBC96" stroke-width="1.4"/>
<line y1="288.5" y2="318.9" x1="375.03" x2="375.03" stroke="#D5C4AC" stroke-width="1.4"/>
<line y1="37.1" y2="52.9" x1="404.2" x2="404.2" stroke="#C1CDAD" stroke-width="1.4"/>
<line y1="52.9" y2="257.9" x1="404.2" x2="404.2" stroke="#D5C4AC" stroke-width="1.4"/>
<line y1="257.9" y2="288.5" x1="404.2" x2="404.2" stroke="#CDBC96" stroke-width="1.4"/>
<line y1="288.5" y2="318.9" x1="404.2" x2="404.2" stroke="#D5C4AC" stroke-width="1.4"/>
<line y1="37.1" y2="52.9" x1="433.36" x2="433.36" stroke="#C5DCCE" stroke-width="1.4"/>
<line y1="52.9" y2="227.9" x1="433.36" x2="433.36" stroke="#ECCBCB" stroke-width="1.4"/>
<line y1="227.9" y2="243.2" x1="433.36" x2="433.36" stroke="#D9D3CC" stroke-width="1.4"/>
<line y1="243.2" y2="257.9" x1="433.36" x2="433.36" stroke="#ECCBCB" stroke-width="1.4"/>
<line y1="257.9" y2="288.5" x1="433.36" x2="433.36" stroke="#DDBC9F" stroke-width="1.4"/>
<line y1="288.5" y2="318.9" x1="433.36" x2="433.36" stroke="#ECCBCB" stroke-width="1.4"/>
<line y1="37.1" y2="52.9" x1="462.53" x2="462.53" stroke="#C7CABB" stroke-width="1.4"/>
<line y1="52.9" y2="227.9" x1="462.53" x2="462.53" stroke="#DBC1B9" stroke-width="1.4"/>
<line y1="227.9" y2="243.2" x1="462.53" x2="462.53" stroke="#C7CABB" stroke-width="1.4"/>
<line y1="243.2" y2="257.9" x1="462.53" x2="462.53" stroke="#DBC1B9" stroke-width="1.4"/>
<line y1="257.9" y2="273.2" x1="462.53" x2="462.53" stroke="#D3BAA3" stroke-width="1.4"/>
<line y1="273.2" y2="288.5" x1="462.53" x2="462.53" stroke="#D4BAA3" stroke-width="1.4"/>
<line y1="288.5" y2="318.9" x1="462.53" x2="462.53" stroke="#DBC1B9" stroke-width="1.4"/>
<line y1="37.1" y2="273.2" x1="491.7" x2="491.7" stroke="#C3BB9A" stroke-width="1.4"/>
<line y1="273.2" y2="318.9" x1="491.7" x2="491.7" stroke="#C4BB9A" stroke-width="1.4"/>
<line y1="37.1" y2="257.9" x1="520.86" x2="520.86" stroke="#D5C4AC" stroke-width="1.4"/>
<line y1="257.9" y2="288.5" x1="520.86" x2="520.86" stroke="#CDBC96" stroke-width="1.4"/>
<line y1="288.5" y2="318.9" x1="520.86" x2="520.86" stroke="#D5C4AC" stroke-width="1.4"/>
<line y1="37.1" y2="257.9" x1="550.03" x2="550.03" stroke="#DBC1B9" stroke-width="1.4"/>
<line y1="257.9" y2="288.5" x1="550.03" x2="550.03" stroke="#D4BAA3" stroke-width="1.4"/>
<line y1="288.5" y2="318.9" x1="550.03" x2="550.03" stroke="#DBC1B9" stroke-width="1.4"/>
<line y1="37.1" y2="318.9" x1="579.19" x2="579.19" stroke="#DBC1B9" stroke-width="1.4"/>
<line y1="37.1" y2="52.9" x1="608.36" x2="608.36" stroke="#D9D3CC" stroke-width="1.4"/>
<line y1="52.9" y2="110" x1="608.36" x2="608.36" stroke="#DBD6CA" stroke-width="1.4"/>
<line y1="110" y2="227.9" x1="608.36" x2="608.36" stroke="#ECCBCB" stroke-width="1.4"/>
<line y1="227.9" y2="243.2" x1="608.36" x2="608.36" stroke="#D9D3CC" stroke-width="1.4"/>
<line y1="243.2" y2="257.9" x1="608.36" x2="608.36" stroke="#ECCBCB" stroke-width="1.4"/>
<line y1="257.9" y2="288.5" x1="608.36" x2="608.36" stroke="#E5C3B5" stroke-width="1.4"/>
<line y1="288.5" y2="318.9" x1="608.36" x2="608.36" stroke="#ECCBCB" stroke-width="1.4"/>
<line y1="37.1" y2="52.9" x1="637.53" x2="637.53" stroke="#C8CABB" stroke-width="1.4"/>
<line y1="52.9" y2="110" x1="637.53" x2="637.53" stroke="#CACCB8" stroke-width="1.4"/>
<line y1="110" y2="227.9" x1="637.53" x2="637.53" stroke="#DBC1B9" stroke-width="1.4"/>
<line y1="227.9" y2="243.2" x1="637.53" x2="637.53" stroke="#C8CABB" stroke-width="1.4"/>
<line y1="243.2" y2="257.9" x1="637.53" x2="637.53" stroke="#DBC1B9" stroke-width="1.4"/>
<line y1="257.9" y2="288.5" x1="637.53" x2="637.53" stroke="#D4BAA3" stroke-width="1.4"/>
<line y1="288.5" y2="318.9" x1="637.53" x2="637.53" stroke="#DBC1B9" stroke-width="1.4"/>
<line y1="37.1" y2="318.9" x1="666.69" x2="666.69" stroke="#C4BB9A" stroke-width="1.4"/>
<line x1="4.4" x2="170.87" y1="37.1" y2="37.1" stroke="#000" stroke-width="1.4"/>
<line x1="4.4" x2="170.87" y1="52.9" y2="52.9" stroke="#000" stroke-width="1.4"/>
<line x1="4.4" x2="170.87" y1="68.2" y2="68.2" stroke="#000" stroke-width="1.4"/>
<line x1="4.4" x2="170.87" y1="83.2" y2="83.2" stroke="#000" stroke-width="1.4"/>
<line x1="4.4" x2="170.87" y1="110" y2="110" stroke="#000" stroke-width="1.4"/>
<line x1="4.4" x2="170.87" y1="124.7" y2="124.7" stroke="#000" stroke-width="1.4"/>
<line x1="4.4" x2="170.87" y1="152.7" y2="152.7" stroke="#000" stroke-width="1.4"/>
<line x1="4.4" x2="170.87" y1="167.5" y2="167.5" stroke="#000" stroke-width="1.4"/>
<line x1="4.4" x2="170.87" y1="182.7" y2="182.7" stroke="#000" stroke-width="1.4"/>
<line x1="4.4" x2="170.87" y1="197.9" y2="197.9" stroke="#000" stroke-width="1.4"/>
<line x1="4.4" x2="170.87" y1="212.9" y2="212.9" stroke="#000" stroke-width="1.4"/>
<line x1="4.4" x2="170.87" y1="227.9" y2="227.9" stroke="#000" stroke-width="1.4"/>
<line x1="4.4" x2="170.87" y1="243.2" y2="243.2" stroke="#000" stroke-width="1.4"/>
<line x1="4.4" x2="170.87" y1="257.9" y2="257.9" stroke="#000" stroke-width="1.4"/>
<line x1="4.4" x2="170.87" y1="273.2" y2="273.2" stroke="#000" stroke-width="1.4"/>
<line x1="4.4" x2="170.87" y1="288.5" y2="288.5" stroke="#000" stroke-width="1.4"/>
<line x1="4.4" x2="170.87" y1="303.9" y2="303.9" stroke="#000" stroke-width="1.4"/>
<line x1="170.87" x2="695.86" y1="36.65" y2="36.65" stroke="#000" stroke-width="1.7"/>
<line x1="170.87" x2="695.86" y1="110" y2="110" stroke="#000" stroke-width="1.6"/>
<line x1="200.04" x2="229.2" y1="167.5" y2="167.5" stroke="#000" stroke-width="1.6"/>
<line x1="258.37" x2="695.86" y1="167.5" y2="167.5" stroke="#000" stroke-width="1.6"/>
<line x1="170.87" x2="695.86" y1="243.2" y2="243.2" stroke="#000" stroke-width="1.6"/>
<line x1="433.36" x2="695.86" y1="288.5" y2="288.5" stroke="#000" stroke-width="1.6"/>
<line y1="21.8" y2="318.9" x1="170.87" x2="170.87" stroke="#000" stroke-width="1.7"/>
<line y1="21.8" y2="318.9" x1="200.04" x2="200.04" stroke="#000" stroke-width="1.7"/>
<line y1="21.8" y2="318.9" x1="258.37" x2="258.37" stroke="#000" stroke-width="1.7"/>
<line y1="21.8" y2="318.9" x1="287.53" x2="287.53" stroke="#000" stroke-width="1.7"/>
<line y1="21.8" y2="318.9" x1="345.87" x2="345.87" stroke="#000" stroke-width="1.7"/>
<line y1="21.8" y2="318.9" x1="404.2" x2="404.2" stroke="#000" stroke-width="1.7"/>
<line y1="21.8" y2="318.9" x1="520.86" x2="520.86" stroke="#000" stroke-width="1.7"/>
<line y1="21.8" y2="318.9" x1="608.36" x2="608.36" stroke="#000" stroke-width="1.7"/>
<line y1="21.8" y2="318.9" x1="433.36" x2="433.36" stroke="#000" stroke-width="2.0"/>
<line y1="110" y2="167.5" x1="229.2" x2="229.2" stroke="#000" stroke-width="1.6"/>
<line x1="432.36" x2="521.66" y1="319.3" y2="319.3" stroke="#000" stroke-width="2.6"/>
<rect x="4.4" y="21.8" width="691.46" height="297.1" fill="none" stroke="#000" stroke-width="1.7"/>
<rect x="4.4" y="334.1" width="574.7" height="71.3" fill="#fff" stroke="#000" stroke-width="2"/>
<rect x="170.87" y="348" width="29.17" height="14.2" fill="#FF0000"/>
<rect x="170.87" y="362.2" width="29.17" height="14.4" fill="#00B050"/>
<rect x="345.87" y="348" width="29.17" height="14.2" fill="#00B0F0"/>
<rect x="345.87" y="362.2" width="29.17" height="14.4" fill="#B2A1C7"/>
<rect x="345.87" y="376.6" width="29.17" height="14.2" fill="#974806"/>
<rect x="520.86" y="348" width="29.17" height="14.2" fill="#E36C0A"/>
<rect x="520.86" y="362.2" width="29.17" height="14.4" fill="#FFFF00"/>
</svg>
<div class="t" style="top:23px;left:6.2px;font-weight:bold;"><span style="letter-spacing:-0.127px">Division</span></div>
<div class="t" style="top:39px;left:6.2px;"><span style="letter-spacing:0.225px">Academic Programs and Departments</span></div>
<div class="t" style="top:54px;left:6.2px;"><span style="letter-spacing:0.206px">Samoan Studies Institute</span></div>
<div class="t" style="top:70px;left:6.2px;"><span style="letter-spacing:0.278px">Trades and Technology Department</span></div>
<div class="t" style="top:84px;left:6.2px;"><span style="letter-spacing:0.314px">Teacher Education Department /</span></div>
<div class="t" style="top:97px;left:6.2px;"><span style="letter-spacing:0.181px">Bachelors in Education Program</span></div>
<div class="t" style="top:112px;left:6.2px;"><span style="letter-spacing:0.264px">Department of Student Services</span></div>
<div class="t" style="top:126px;left:6.2px;"><span style="letter-spacing:0.135px">Admissions, Registrar and Financial</span></div>
<div class="t" style="top:140px;left:6.2px;"><span style="letter-spacing:-0.005px">Aid</span></div>
<div class="t" style="top:155px;left:6.2px;"><span style="letter-spacing:0.081px">Learning Resource Center</span></div>
<div class="t" style="top:169px;left:6.2px;"><span style="letter-spacing:0.141px">Human Resources Office</span></div>
<div class="t" style="top:184px;left:6.2px;"><span style="letter-spacing:0.282px">Institutional Effectiveness</span></div>
<div class="t" style="top:199px;left:6.2px;"><span style="letter-spacing:0.281px">Management Information Systems</span></div>
<div class="t" style="top:214px;left:6.2px;"><span style="letter-spacing:0.181px">Physical Facilities Management</span></div>
<div class="t" style="top:230px;left:6.2px;font-weight:bold;"><span style="letter-spacing:0.094px">Department of Finance</span></div>
<div class="t" style="top:245px;left:6.2px;font-weight:bold;"><span style="letter-spacing:-0.800px">ASCRF</span></div>
<div class="t" style="top:260px;left:6.2px;font-weight:bold;"><span style="letter-spacing:-0.500px">CNR</span></div>
<div class="t" style="top:275px;left:6.2px;font-weight:bold;"><span style="letter-spacing:-0.629px">SBDC</span></div>
<div class="t" style="top:290px;left:6.2px;font-weight:bold;"><span style="letter-spacing:-0.064px">Student Support Services</span></div>
<div class="t" style="top:305px;left:6.2px;font-weight:bold;"><span style="letter-spacing:-0.363px">UCEDD</span></div>
<div class="t" style="top:23px;left:86.05px;width:200px;text-align:center;font-weight:bold;"><span style="letter-spacing:0.117px">2008</span></div>
<div class="t" style="top:23px;left:129.8px;width:200px;text-align:center;font-weight:bold;"><span style="letter-spacing:0.117px">2009</span></div>
<div class="t" style="top:23px;left:173.55px;width:200px;text-align:center;font-weight:bold;"><span style="letter-spacing:0.117px">2010</span></div>
<div class="t" style="top:23px;left:217.3px;width:200px;text-align:center;font-weight:bold;"><span style="letter-spacing:0.242px">2011</span></div>
<div class="t" style="top:23px;left:275.63px;width:200px;text-align:center;font-weight:bold;"><span style="letter-spacing:0.117px">2012</span></div>
<div class="t" style="top:23px;left:319.38px;width:200px;text-align:center;font-weight:bold;"><span style="letter-spacing:0.117px">2013</span></div>
<div class="t" style="top:23px;left:377.71px;width:200px;text-align:center;font-weight:bold;"><span style="letter-spacing:0.117px">2014</span></div>
<div class="t" style="top:23px;left:465.21px;width:200px;text-align:center;font-weight:bold;"><span style="letter-spacing:0.117px">2015</span></div>
<div class="t" style="top:23px;left:552.71px;width:200px;text-align:center;font-weight:bold;"><span style="letter-spacing:0.117px">2016</span></div>
<div class="t" style="top:9px;left:250.6px;width:200px;text-align:center;font-weight:bold;font-size:9.5px;"><span style="letter-spacing:0.013px">PROGRAM REVIEW TIMELINE</span></div>
<div class="t" style="top:134px;left:317.9px;font-weight:bold;font-size:7.3px;color:#0a1a5c;"><span style="letter-spacing:0.072px">FA only</span></div>
<div class="t" style="top:350px;right:530.53px;font-size:9.5px;"><span style="letter-spacing:-0.180px">None</span></div>
<div class="t" style="top:365px;right:530.53px;font-size:9.5px;"><span style="letter-spacing:0.131px">Departmental</span></div>
<div class="t" style="top:350px;right:356.13px;font-size:9.5px;"><span style="letter-spacing:0.116px">Administrative</span></div>
<div class="t" style="top:365px;right:356.13px;font-size:9.5px;"><span style="letter-spacing:-0.174px">Academics</span></div>
<div class="t" style="top:379px;right:356.13px;font-size:9.5px;"><span style="letter-spacing:-0.114px">Grant Review</span></div>
<div class="t" style="top:350px;left:435.3px;font-size:9.5px;"><span style="letter-spacing:-0.086px">Divisional</span></div>
<div class="t" style="top:365px;left:435.3px;font-size:9.5px;"><span style="letter-spacing:0.211px">Institutional</span></div>
<div class="t" style="top:379px;left:435.3px;font-size:9.5px;"><span style="letter-spacing:0.027px">Unknown</span></div>
</body></html>
